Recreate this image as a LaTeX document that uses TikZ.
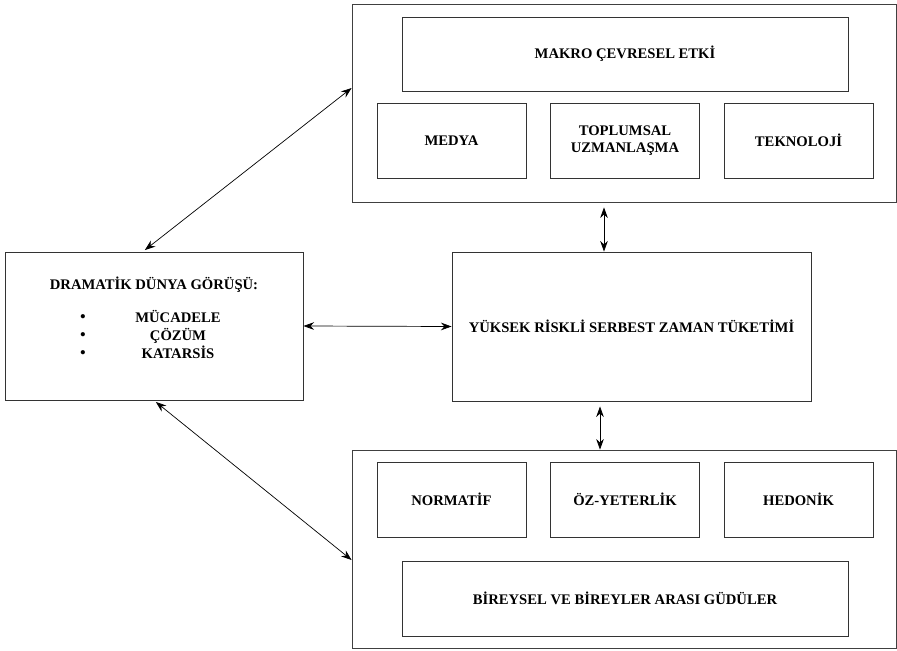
\documentclass[tikz,border=0pt]{standalone}
\usepackage{fontspec}
\setmainfont{Liberation Serif}
\usetikzlibrary{arrows.meta}

\begin{document}
\begin{tikzpicture}[
    every node/.style={font=\fontsize{12.5}{15}\selectfont\bfseries},
    kutu/.style={draw=black!80, line width=0.8pt, minimum width=4.47cm, minimum height=2.25cm, align=center},
    cerceve/.style={draw=black!75, line width=0.7pt, minimum width=16.32cm, minimum height=5.94cm},
    ok/.style={{Stealth[length=9pt,width=6.5pt]}-{Stealth[length=9pt,width=6.5pt]}, line width=0.6pt}
  ]
        \useasboundingbox (0,0) rectangle (26.91,19.5);

        % makro çevresel etki
        \node[cerceve] (makro) at (18.72,16.41) {};
        \node[kutu, minimum width=13.38cm, minimum height=2.22cm] (etki) at (18.75,17.88) {MAKRO ÇEVRESEL ETKİ};
        \node[kutu] (medya) at (13.545,15.285) {MEDYA};
        \node[kutu] (uzman) at (18.75,15.285) {TOPLUMSAL\\UZMANLAŞMA};
        \node[kutu] (tekno) at (23.955,15.285) {TEKNOLOJİ};

        % dramatik dünya görüşü
        \node[kutu, minimum width=8.94cm, minimum height=4.44cm] (dram) at (4.62,9.72) {};
        \node (baslik) at (4.62,10.95) {DRAMATİK DÜNYA GÖRÜŞÜ:};
        \foreach \ad [count=\i] in {MÜCADELE, ÇÖZÜM, KATARSİS} {
            \node[anchor=base, font=\fontsize{15}{15}\selectfont] (nokta\i) at (2.49,{9.84-0.54*(\i-1)}) {\textbullet};
            \node[anchor=base] (madde\i) at (5.34,{9.84-0.54*(\i-1)}) {\ad};
        }

        % yüksek riskli tüketim
        \node[kutu, minimum width=10.77cm, minimum height=4.47cm] (risk) at (18.945,9.705) {YÜKSEK RİSKLİ SERBEST ZAMAN TÜKETİMİ};

        % güdüler
        \node[cerceve] (gudu) at (18.72,3.03) {};
        \node[kutu] (norm) at (13.545,4.515) {NORMATİF};
        \node[kutu] (oz) at (18.75,4.515) {ÖZ-YETERLİK};
        \node[kutu] (hedo) at (23.955,4.515) {HEDONİK};
        \node[kutu, minimum width=13.38cm] (birey) at (18.75,1.545) {BİREYSEL VE BİREYLER ARASI GÜDÜLER};

        % oklar
        \draw[ok, shorten <=2pt] ([xshift=-0.33cm]dram.north) -- ([yshift=0.45cm]makro.west);
        \draw[ok, shorten <=2pt] (dram.south) -- ([yshift=-0.33cm]gudu.west);
        \draw[ok] (dram.east) -- (risk.west);
        \draw[ok, shorten >=0.15cm] ([xshift=-0.825cm]risk.north) -- ([xshift=-0.825cm]risk.north |- makro.south);
        \draw[ok, shorten >=0.15cm] ([xshift=-0.72cm]gudu.north) -- ([xshift=-0.72cm]gudu.north |- risk.south);
    \end{tikzpicture}
\end{document}
